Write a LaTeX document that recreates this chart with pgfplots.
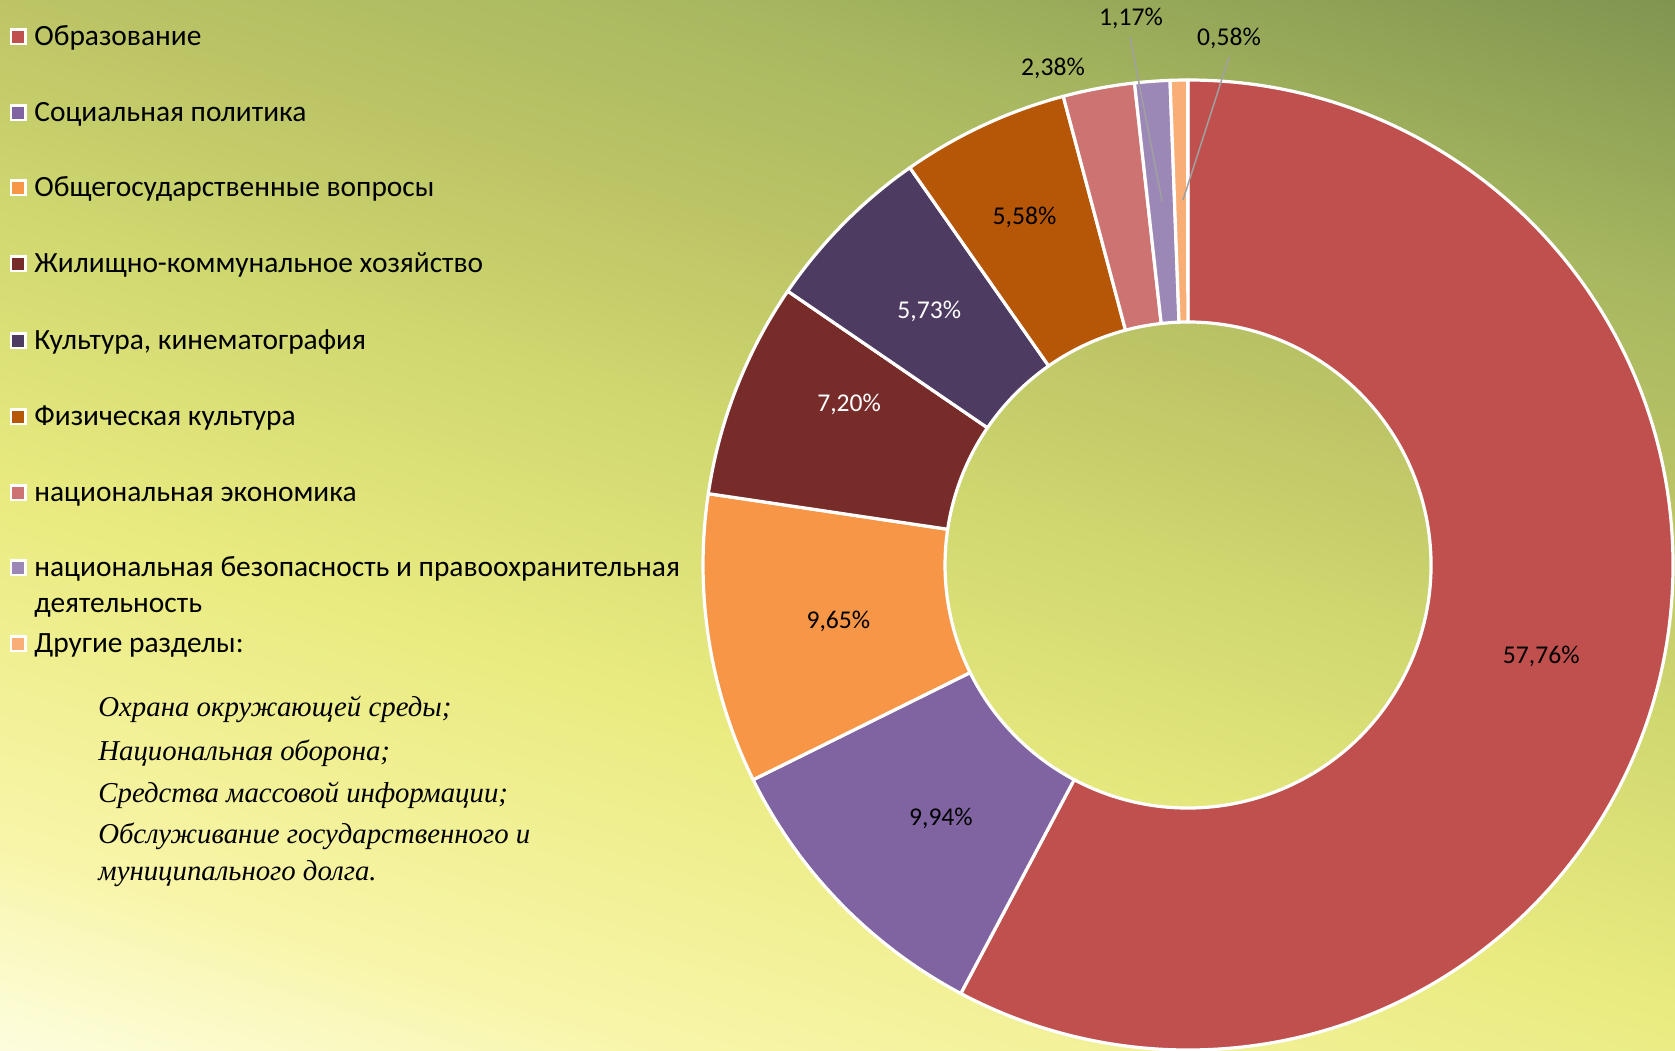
\documentclass[border=0pt]{standalone}
\usepackage{pgfplots}
\pgfplotsset{compat=1.18}
\usepackage{fontspec}
\setmainfont{Carlito}
\newfontfamily\itserif{Liberation Serif}
\definecolor{c1}{HTML}{C0504D}
\definecolor{c2}{HTML}{8064A2}
\definecolor{c3}{HTML}{F79646}
\definecolor{c4}{HTML}{772C2A}
\definecolor{c5}{HTML}{4D3B62}
\definecolor{c6}{HTML}{B65708}
\definecolor{c7}{HTML}{CD7371}
\definecolor{c8}{HTML}{9C88B7}
\definecolor{c9}{HTML}{F9AE76}
\definecolor{leader}{HTML}{A0A0A0}
\pgfdeclareverticalshading{bgshade}{100bp}{%
 color(0bp)=(rgb,255:red,253;green,253;blue,226);
 color(31bp)=(rgb,255:red,253;green,253;blue,226);
 color(32.1bp)=(rgb,255:red,252;green,252;blue,214);
 color(36.4bp)=(rgb,255:red,248;green,245;blue,168);
 color(44.5bp)=(rgb,255:red,233;green,235;blue,128);
 color(51.6bp)=(rgb,255:red,207;green,215;blue,111);
 color(56.5bp)=(rgb,255:red,188;green,196;blue,102);
 color(61.6bp)=(rgb,255:red,168;green,184;blue,96);
 color(68.6bp)=(rgb,255:red,128;green,149;blue,80);
 color(100bp)=(rgb,255:red,122;green,142;blue,76)}
\newcommand\lbfont{\fontsize{12.8}{15}\selectfont}
\newcommand\lgfont{\fontsize{14.7}{17}\selectfont}
\newcommand\itfont{\itserif\itshape\fontsize{14.4}{17}\selectfont}
\begin{document}
\begin{tikzpicture}
\useasboundingbox (0,0) rectangle (837.5pt,525pt);
\begin{scope}
\clip (0,0) rectangle (837.5pt,525pt);
\begin{scope}[transform canvas={rotate around={-17:(418.75pt,262.5pt)}}]
\shade[shading=bgshade] (-81.25pt,-237.5pt) rectangle (918.75pt,762.5pt);
\end{scope}
\end{scope}
\begin{axis}[at={(0,0)},anchor=south west,scale only axis,
  width=837.5pt,height=525pt,xmin=0,xmax=1675,ymin=0,ymax=1050,
  axis lines=none,clip=false]
\pgfplotsextra{%
 \gdef\cum{0}%
 \foreach \v/\col/\lab/\tc/\dx/\dy in {57.76/c1/{57,76\%}/black/0/-2, 9.94/c2/{9,94\%}/black/7/0,
   9.65/c3/{9,65\%}/black/5/0, 7.20/c4/{7,20\%}/white/0/14, 5.73/c5/{5,73\%}/white/0/-1,
   5.58/c6/{5,58\%}/black/-5/9, 2.38/c7/{}/black/0/0, 1.17/c8/{}/black/0/0, 0.58/c9/{}/black/0/0}{%
  \pgfmathsetmacro\a{90-3.6*\cum}%
  \pgfmathsetmacro\b{90-3.6*(\cum+\v)}%
  \pgfmathsetmacro\m{(\a+\b)/2}%
  \pgfmathsetmacro\bb{\b+180}%
  \filldraw[fill=\col,draw=white,line width=1.6pt,line join=round]
    (axis cs:1188,485) ++(\a:242.5pt) arc[start angle=\a,end angle=\b,radius=242.5pt]
    -- ++(\bb:121pt) arc[start angle=\b,end angle=\a,radius=121.5pt] -- cycle;
  \path (axis cs:1188,485) ++(\m:182pt) ++(\dx pt,\dy pt) node[text=\tc,font=\lbfont]{\lab};
  \pgfmathsetmacro\nc{\cum+\v}\global\let\cum\nc
 }%
 \node[font=\lbfont] at (axis cs:1053,982) {2,38\%};
 \node[font=\lbfont] at (axis cs:1131,1032) {1,17\%};
 \node[font=\lbfont] at (axis cs:1229,1012) {0,58\%};
 \draw[leader,line width=0.75pt] (axis cs:1130,1013) -- (axis cs:1162,849);
 \draw[leader,line width=0.75pt] (axis cs:1229,993) -- (axis cs:1183,850);
 \foreach \y/\col/\txt in {46/c1/Образование, 122/c2/Социальная политика,
   197/c3/Общегосударственные вопросы, 273/c4/Жилищно-коммунальное хозяйство,
   350/c5/{Культура, кинематография}, 426/c6/Физическая культура,
   502/c7/национальная экономика, 577/c8/национальная безопасность и правоохранительная,
   653/c9/Другие разделы:}{%
  \pgfmathsetmacro\yy{1050-\y}%
  \pgfmathsetmacro\ym{1059-\y}%
  \node[fill=white,minimum size=8.5pt,inner sep=0pt] at (axis cs:18,\ym) {};
  \node[fill=\col,minimum size=5.8pt,inner sep=0pt] at (axis cs:18,\ym) {};
  \node[anchor=base west,inner sep=0pt,font=\lgfont] at (axis cs:34,\yy) {\txt};
 }%
 \node[anchor=base west,inner sep=0pt,font=\lgfont] at (axis cs:34,437) {деятельность};
 \node[anchor=base west,inner sep=0pt,font=\itfont] at (axis cs:98,333) {Охрана окружающей среды;};
 \node[anchor=base west,inner sep=0pt,font=\itfont] at (axis cs:98,290) {Национальная оборона;};
 \node[anchor=base west,inner sep=0pt,font=\itfont] at (axis cs:98,248) {Средства массовой информации;};
 \node[anchor=base west,inner sep=0pt,font=\itfont] at (axis cs:98,207) {Обслуживание государственного и};
 \node[anchor=base west,inner sep=0pt,font=\itfont] at (axis cs:98,170) {муниципального долга.};
}
\end{axis}
\end{tikzpicture}
\end{document}
